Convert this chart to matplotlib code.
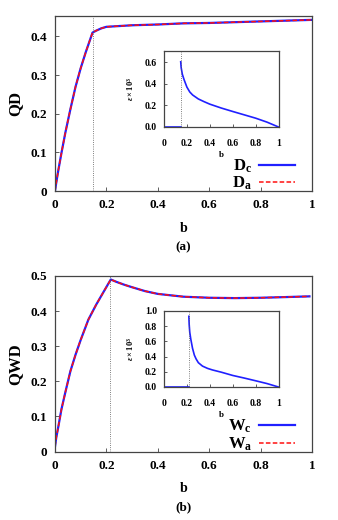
import matplotlib
matplotlib.use("Agg")
import matplotlib.pyplot as plt

plt.rcParams['font.family'] = ['Liberation Serif', 'DejaVu Serif']
plt.rcParams['font.weight'] = 'bold'
plt.rcParams['mathtext.fontset'] = 'custom'
plt.rcParams['mathtext.rm'] = 'Liberation Serif'
plt.rcParams['mathtext.bf'] = 'Liberation Serif:bold'
plt.rcParams['mathtext.it'] = 'Liberation Serif:italic'

# panel (a): quantum discord
b_qd = [0, 0.005, 0.013, 0.025, 0.04, 0.06, 0.08, 0.1, 0.12, 0.146, 0.16, 0.18,
        0.2, 0.25, 0.3, 0.4, 0.5, 0.6, 0.7, 0.8, 0.9, 1.0]
qd_c = [0, 0.022, 0.054, 0.098, 0.15, 0.212, 0.27, 0.318, 0.36, 0.41, 0.415, 0.421,
        0.425, 0.427, 0.429, 0.431, 0.434, 0.435, 0.437, 0.439, 0.441, 0.443]
qd_a = [0, 0.022, 0.054, 0.098, 0.15, 0.212, 0.27, 0.318, 0.36, 0.41, 0.415, 0.421,
        0.425, 0.427, 0.429, 0.431, 0.434, 0.435, 0.437, 0.439, 0.441, 0.443]
b_crit_a = 0.146
# inset (a): error
eps_a_b0 = [0, 0.146]
eps_a_v0 = [0, 0]
eps_a_b = [0.146, 0.15, 0.16, 0.175, 0.2, 0.225, 0.25, 0.3, 0.35, 0.4, 0.5,
           0.6, 0.7, 0.8, 0.9, 1.0]
eps_a_v = [0.605, 0.55, 0.49, 0.44, 0.37, 0.325, 0.297, 0.26, 0.235, 0.212, 0.176,
           0.144, 0.113, 0.082, 0.045, 0.0]

# panel (b): quantum work deficit
b_qwd = [0, 0.005, 0.013, 0.025, 0.04, 0.06, 0.08, 0.1, 0.13, 0.16, 0.19, 0.217,
         0.24, 0.27, 0.3, 0.35, 0.4, 0.5, 0.6, 0.7, 0.8, 0.9, 0.99]
qwd_c = [0.014, 0.04, 0.071, 0.12, 0.168, 0.229, 0.276, 0.318, 0.376, 0.418, 0.456, 0.49,
         0.483, 0.475, 0.468, 0.457, 0.449, 0.441, 0.438, 0.437, 0.438, 0.44, 0.442]
qwd_a = [0.014, 0.04, 0.071, 0.12, 0.168, 0.229, 0.276, 0.318, 0.376, 0.418, 0.456, 0.49,
         0.483, 0.475, 0.468, 0.457, 0.449, 0.441, 0.438, 0.437, 0.438, 0.44, 0.442]
b_crit_b = 0.215
eps_b_b0 = [0, 0.215]
eps_b_v0 = [0, 0]
eps_b_b = [0.217, 0.22, 0.225, 0.234, 0.249, 0.265, 0.28, 0.3, 0.336, 0.38, 0.424,
           0.5, 0.6, 0.7, 0.8, 0.9, 1.0]
eps_b_v = [0.93, 0.82, 0.72, 0.63, 0.51, 0.42, 0.37, 0.32, 0.275, 0.245, 0.224,
           0.195, 0.152, 0.118, 0.082, 0.045, 0.0]

xticks = [0, 0.2, 0.4, 0.6, 0.8, 1.0]
xticklabels = ['0', '0.2', '0.4', '0.6', '0.8', '1']

BLUE = '#2020ff'
RED = '#ff1010'
SPINE = '#444444'

fig = plt.figure(figsize=(3.38, 5.20), dpi=100)
W, H = 338.0, 520.0


def px_axes(l, t, r, b):
    return fig.add_axes([l / W, 1 - b / H, (r - l) / W, (b - t) / H])


def style(ax, fs, pad):
    for s in ax.spines.values():
        s.set_color(SPINE)
        s.set_linewidth(0.9)
    ax.tick_params(direction='in', length=3, width=0.6, labelsize=fs, pad=pad,
                   color=SPINE)


def main_panel(top, bottom, b, vc, va, bc, ymax, yticks, ylab, labs, tag):
    ax = px_axes(55, top, 312, bottom)
    ax.plot(b, vc, color=BLUE, lw=1.6, label=labs[0])
    ax.plot(b, va, color=RED, lw=1.1, ls=(0, (3, 1.5)), label=labs[1])
    ax.axvline(bc, color='#555555', lw=0.6, ls=':')
    ax.set_xlim(0, 1)
    ax.set_ylim(0, ymax)
    ax.set_xticks(xticks)
    ax.set_xticklabels(xticklabels)
    ax.set_yticks(yticks)
    ax.set_yticklabels(['0'] + ['%.1f' % v for v in yticks[1:]])
    style(ax, 9.5, 6)
    ax.legend(loc='lower right', bbox_to_anchor=(0.968, -0.055), frameon=False,
              markerfirst=False, fontsize=12, handlelength=2.2,
              labelspacing=0.0, borderpad=0, handletextpad=0.4)
    fig.text(15 / W, 1 - (top + bottom) / 2 / H, ylab, rotation=90, ha='center',
             va='center', fontsize=12, fontweight='bold')
    fig.text(183.5 / W, 1 - (bottom + 37) / H, 'b', ha='center', va='center',
             fontsize=10, fontweight='bold')
    fig.text(183.5 / W, 1 - (bottom + 56) / H, tag, ha='center', va='center',
             fontsize=9.5, fontweight='bold')
    return ax


def inset(top, bottom, b0, v0, b, v, bc, ymax, yticks):
    ax = px_axes(164, top, 278.5, bottom)
    ax.plot(b0, v0, color=BLUE, lw=1.2)
    ax.plot(b, v, color=BLUE, lw=1.2)
    ax.axvline(bc, color='#555555', lw=0.6, ls=':')
    ax.set_xlim(0, 1)
    ax.set_ylim(0, ymax)
    ax.set_xticks(xticks)
    ax.set_xticklabels(xticklabels)
    ax.set_yticks(yticks)
    ax.set_yticklabels(['%.1f' % t for t in yticks])
    style(ax, 7, 5)
    ax.tick_params(axis='x', pad=9, length=2)
    ax.tick_params(axis='y', length=2)
    fig.text(131 / W, 1 - (top + bottom) / 2 / H, r'$\varepsilon\times10^3$',
             rotation=90, ha='center', va='center', fontsize=6)
    fig.text(221.5 / W, 1 - (bottom + 28) / H, 'b', ha='center', va='center',
             fontsize=6.5, fontweight='bold')
    return ax


main_panel(16, 191, b_qd, qd_c, qd_a, b_crit_a, 0.453, [0, 0.1, 0.2, 0.3, 0.4],
           'QD', [r'$\mathbf{D_c}$', r'$\mathbf{D_a}$'], '(a)')
inset(51, 127, eps_a_b0, eps_a_v0, eps_a_b, eps_a_v, b_crit_a, 0.705,
      [0, 0.2, 0.4, 0.6])

main_panel(276, 451.5, b_qwd, qwd_c, qwd_a, b_crit_b, 0.5, [0, 0.1, 0.2, 0.3, 0.4, 0.5],
           'QWD', [r'$\mathbf{W_c}$', r'$\mathbf{W_a}$'], '(b)')
inset(311, 387, eps_b_b0, eps_b_v0, eps_b_b, eps_b_v, b_crit_b, 1.0,
      [0, 0.2, 0.4, 0.6, 0.8, 1.0])

fig.savefig('out.png', dpi=100)
